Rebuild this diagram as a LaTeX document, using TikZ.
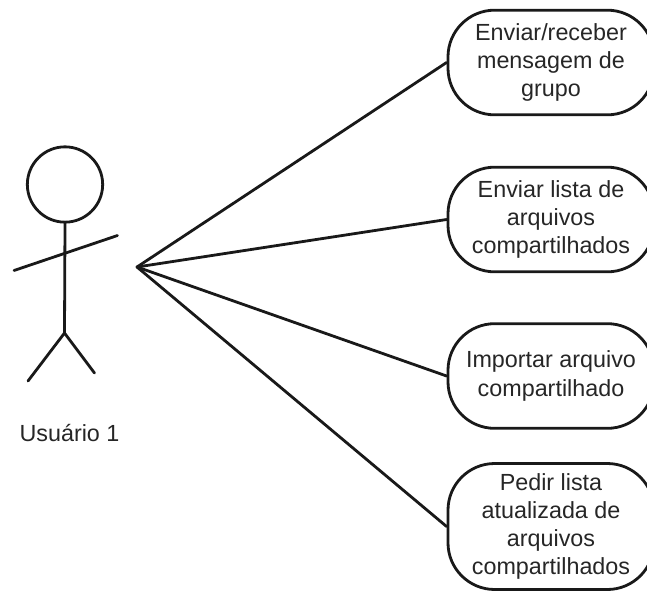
\documentclass[tikz,border=0pt]{standalone}
\usepackage{fontspec}
\setmainfont{Liberation Sans}
\tikzset{
  pic line/.style={line width=2.1pt,draw=black!90,line cap=round},
  usecase/.style={draw=black!90,line width=2.1pt,rectangle,rounded corners=35pt,minimum width=154.5pt,align=center,inner sep=0pt,font=\fontsize{17.5}{21.2}\selectfont,text=black!85},
  caption/.style={font=\fontsize{17.5}{21.2}\selectfont,text=black!85,inner sep=0pt}
}
\begin{document}
\begin{tikzpicture}[x=0.75pt,y=-0.75pt]
\useasboundingbox (0,0) rectangle (647,590);
\node[usecase,minimum height=78.5pt] (u1) at (551,62.5) {Enviar/receber\\mensagem de\\grupo};
\node[usecase,minimum height=78.5pt] (u2) at (551,219.5) {Enviar lista de\\arquivos\\compartilhados};
\node[usecase,minimum height=78.5pt] (u3) at (551,376) {Importar arquivo\\compartilhado};
\node[usecase,minimum height=94.5pt] (u4) at (551,526.5) {Pedir lista\\atualizada de\\arquivos\\compartilhados};
\coordinate (hub) at (137,267);
\draw[pic line] (hub) -- (u1.west);
\draw[pic line] (hub) -- (u2.west);
\draw[pic line] (hub) -- (u3.west);
\draw[pic line] (hub) -- (u4.west);
\node[draw=black!90,line width=2.1pt,circle,minimum size=56.5pt,inner sep=0pt] (head) at (65,184.5) {};
\coordinate (hip) at (64.5,333);
\coordinate (handL) at (14,270.5);
\coordinate (handR) at (117.5,235.5);
\coordinate (footL) at (28,381);
\coordinate (footR) at (94.5,373);
\draw[pic line] (head.south) -- (hip);
\draw[pic line] (handL) -- (handR);
\draw[pic line] (footL) -- (hip) -- (footR);
\node[caption] (actor) at (69.5,433) {Usuário 1};
\end{tikzpicture}
\end{document}
